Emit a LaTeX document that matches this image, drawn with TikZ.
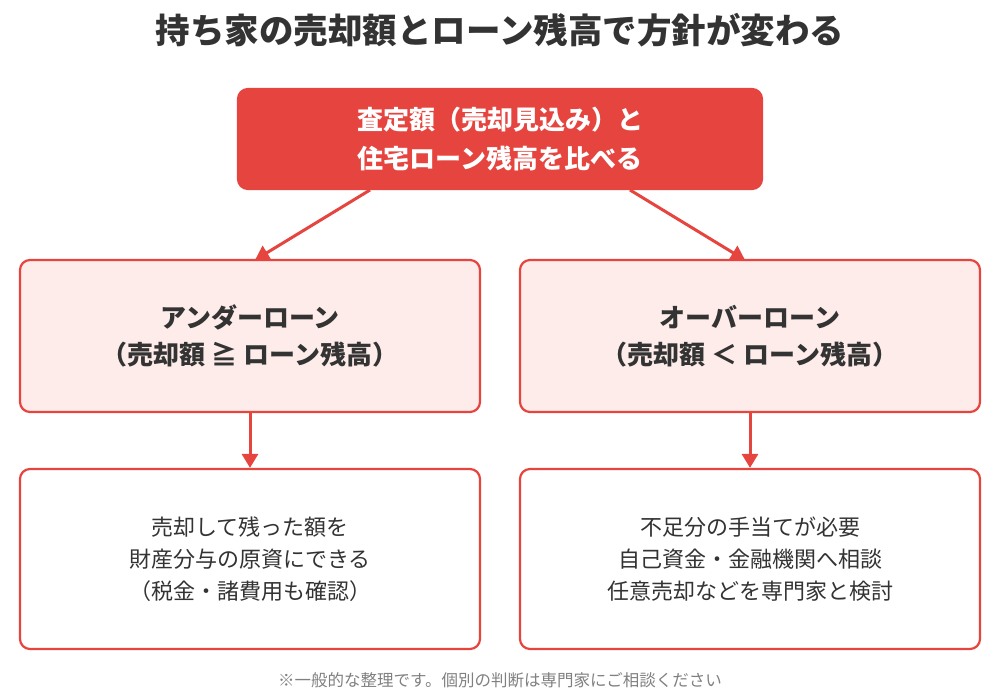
\documentclass[tikz,border=0pt]{standalone}
\usepackage{fontspec}
\setmainfont{Noto Sans CJK JP}
\usetikzlibrary{arrows.meta}
\definecolor{red1}{HTML}{E5443F}
\definecolor{pink1}{HTML}{FDECEA}
\definecolor{txt}{HTML}{333333}
\begin{document}
\begin{tikzpicture}[x=1pt,y=-1pt,
  box/.style={draw=red1,line width=2.2pt,rounded corners=10pt,align=center,text=txt},
  arr/.style={draw=red1,line width=3pt,-{Triangle[length=14pt,width=16pt]}}]
\useasboundingbox (0,0) rectangle (1000,700);
\node[font=\bfseries\fontsize{34.5}{40}\selectfont,text=txt] (title) at (500,30) {持ち家の売却額とローン残高で方針が変わる};
\node[box,fill=red1,text=white,minimum width=524pt,minimum height=100pt,font=\bfseries\fontsize{26}{39}\selectfont] (top) at (500,139) {査定額（売却見込み）と\\住宅ローン残高を比べる};
\node[box,fill=pink1,minimum width=460pt,minimum height=152pt,font=\bfseries\fontsize{26}{37}\selectfont] (l) at (250,336) {アンダーローン\\（売却額 ≧ ローン残高）};
\node[box,fill=pink1,minimum width=460pt,minimum height=152pt,font=\bfseries\fontsize{26}{37}\selectfont] (r) at (750,336) {オーバーローン\\（売却額 ＜ ローン残高）};
\node[box,fill=white,minimum width=460pt,minimum height=180pt,font=\fontsize{22}{32}\selectfont] (lb) at (250,559) {売却して残った額を\\財産分与の原資にできる\\（税金・諸費用も確認）};
\node[box,fill=white,minimum width=460pt,minimum height=180pt,font=\fontsize{22}{32}\selectfont] (rb) at (750,559) {不足分の手当てが必要\\自己資金・金融機関へ相談\\任意売却などを専門家と検討};
\node[font=\fontsize{16.5}{18}\selectfont,text=gray] (foot) at (500,680) {※一般的な整理です。個別の判断は専門家にご相談ください};
\draw[arr] (370,190) -- (255,260);
\draw[arr] (630,190) -- (745,260);
\draw[arr] (l.south) -- (lb.north);
\draw[arr] (r.south) -- (rb.north);
\end{tikzpicture}
\end{document}
